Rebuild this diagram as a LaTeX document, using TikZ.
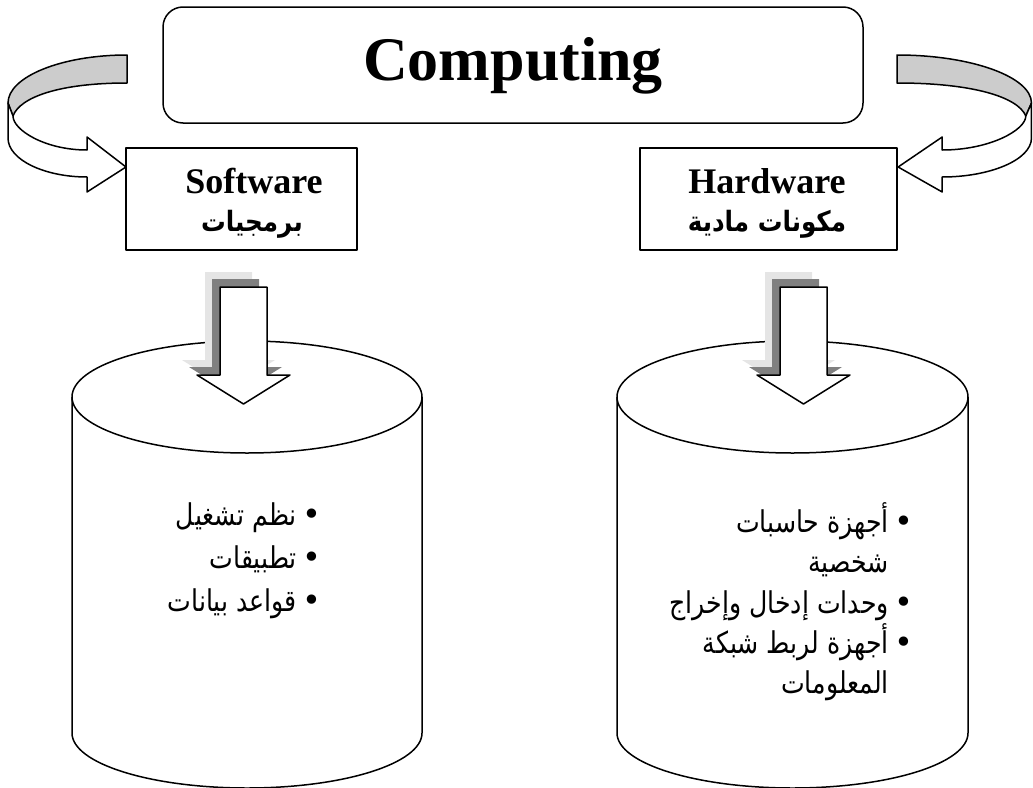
\documentclass[tikz,border=0pt]{standalone}
\usepackage{fontspec}
\setmainfont{Liberation Serif}
\newfontfamily\arabicfont[Script=Arabic]{DejaVu Sans}
\newfontfamily\bulletfont{DejaVu Sans}
\TeXXeTstate=1
\newcommand\artxt[1]{\scalebox{0.84}[1]{\beginR #1\endR}}
\newcommand\arbtxt[1]{\scalebox{0.88}[1]{\beginR #1\endR}}
\tikzset{
  ln/.style={line width=1.5pt, line join=round},
  band/.style={ln, fill=black!20},
  arab/.style={inner sep=0pt, font=\arabicfont\fontsize{30}{36}\selectfont},
  arabbold/.style={inner sep=0pt, font=\arabicfont\bfseries\fontsize{28}{34}\selectfont},
  latinbold/.style={inner sep=0pt, font=\bfseries\fontsize{36}{40}\selectfont},
  bul/.style={inner sep=0pt, font=\bulletfont\fontsize{32}{38}\selectfont},
  boxstyle/.style={ln, fill=white},
}
\begin{document}
\begin{tikzpicture}[x=1pt,y=-1pt]
\useasboundingbox (0,0) rectangle (1033,787);
% top box
\draw[ln, rounded corners=20pt] (163,7) rectangle (863,123);
\node[inner sep=0pt, font=\bfseries\fontsize{62}{70}\selectfont, anchor=base] (comp) at (513,80) {Computing};
% curved arrows
\draw[band] (127,55) .. controls (61,55) and (8,77) .. (8,103) -- (13,116) .. controls (20,97) and (60,83) .. (127,83) -- cycle;
\draw[ln, fill=white] (8,103) -- (8,138) .. controls (8,160) and (45,177) .. (87,177) -- (87,192) -- (126,167) -- (87,137) -- (87,150) .. controls (45,150) and (13,130) .. (13,116) -- cycle;
\begin{scope}[shift={(1040.5,0)}, xscale=-1.13]
\draw[band] (127,55) .. controls (61,55) and (8,77) .. (8,103) -- (13,116) .. controls (20,97) and (60,83) .. (127,83) -- cycle;
\draw[ln, fill=white] (8,103) -- (8,138) .. controls (8,160) and (45,177) .. (87,177) -- (87,192) -- (126,167) -- (87,137) -- (87,150) .. controls (45,150) and (13,130) .. (13,116) -- cycle;
\end{scope}
% boxes
\draw[boxstyle] (126,148) rectangle (357,250);
\draw[boxstyle] (640,148) rectangle (897,250);
\node[latinbold, anchor=base] (sw) at (254,193) {Software};
\node[arabbold, anchor=base] (swa) at (252,231) {\arbtxt{برمجيات}};
\node[latinbold, anchor=base] (hw) at (767,193) {Hardware};
\node[arabbold, anchor=base] (hwa) at (767,231) {\arbtxt{مكونات مادية}};
% cylinders
\draw[ln, fill=white] (72,397) -- (72,733) .. controls (72,763.4) and (150.3,788) .. (247,788) .. controls (343.7,788) and (422,763.4) .. (422,733) -- (422,397);
\draw[ln, fill=white] (247,397) ellipse [x radius=175pt, y radius=56pt];
\draw[ln, fill=white] (617,397) -- (617,733) .. controls (617,763.4) and (695.6,788) .. (792.5,788) .. controls (889.4,788) and (968,763.4) .. (968,733) -- (968,397);
\draw[ln, fill=white] (792.5,397) ellipse [x radius=175.5pt, y radius=56pt];
% down arrows with shadows
\foreach \dx in {0,560} {
  \begin{scope}[shift={(\dx,0)}]
  \fill[black!10, shift={(-15,-15)}] (220,287) -- (267,287) -- (267,375) -- (290,375) -- (243.5,404) -- (197,375) -- (220,375) -- cycle;
  \fill[black!50, shift={(-8,-8)}] (220,287) -- (267,287) -- (267,375) -- (290,375) -- (243.5,404) -- (197,375) -- (220,375) -- cycle;
  \draw[ln, fill=white] (220,287) -- (267,287) -- (267,375) -- (290,375) -- (243.5,404) -- (197,375) -- (220,375) -- cycle;
  \end{scope}
}
% software list
\node[arab, anchor=base east] (s1) at (297,525) {\artxt{نظم تشغيل}};
\node[arab, anchor=base east] (s2) at (297,568) {\artxt{تطبيقات}};
\node[arab, anchor=base east] (s3) at (297,611) {\artxt{قواعد بيانات}};
\node[bul] (sb1) at (312,517) {•};
\node[bul] (sb2) at (312,560) {•};
\node[bul] (sb3) at (312,603) {•};
% hardware list
\node[arab, anchor=base east] (h1) at (889,532) {\artxt{أجهزة حاسبات}};
\node[arab, anchor=base east] (h2) at (889,572) {\artxt{شخصية}};
\node[arab, anchor=base east] (h3) at (889,613) {\artxt{وحدات إدخال وإخراج}};
\node[arab, anchor=base east] (h4) at (889,653) {\artxt{أجهزة لربط شبكة}};
\node[arab, anchor=base east] (h5) at (889,693) {\artxt{المعلومات}};
\node[bul] (hb1) at (904,524) {•};
\node[bul] (hb3) at (904,605) {•};
\node[bul] (hb4) at (904,645) {•};
\end{tikzpicture}
\end{document}
